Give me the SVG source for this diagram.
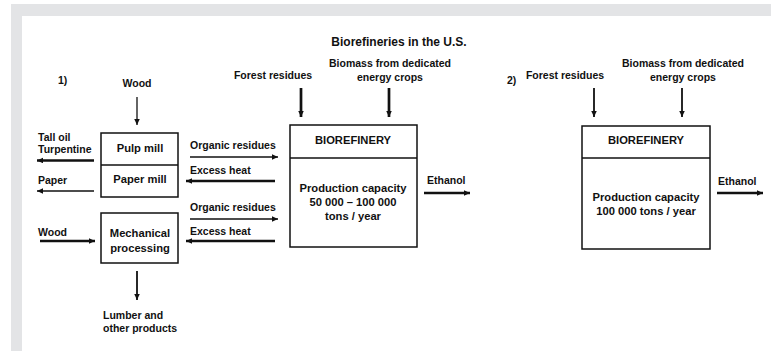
<svg xmlns="http://www.w3.org/2000/svg" width="771" height="351" viewBox="0 0 771 351">
  <style>
    text { font-family: "Liberation Sans", Arial, sans-serif; font-weight: bold; fill: #111; font-size: 10.5px; }
    .title { font-size: 12px; }
    .box-text { font-size: 11.2px; }
    .c { text-anchor: middle; }
    .box { fill: #fff; stroke: #111; stroke-width: 1.5; }
    .div { stroke: #111; stroke-width: 1.5; }
    .thin { stroke: #111; stroke-width: 1.3; fill: none; marker-end: url(#head); }
    .mid { stroke: #111; stroke-width: 1.8; fill: none; marker-end: url(#head); }
    .thick { stroke: #111; stroke-width: 2.7; fill: none; marker-end: url(#head); }
  </style>
  <defs>
    <marker id="head" markerUnits="userSpaceOnUse" markerWidth="7" markerHeight="6" refX="6" refY="2.75" orient="auto">
      <path d="M0,0 L6,2.75 L0,5.5 z" fill="#111"/>
    </marker>
  </defs>

  <!-- page frame -->
  <rect x="0" y="0" width="771" height="351" fill="#fff"/>
  <rect x="11" y="4" width="760" height="12" fill="#e3e4e6"/>
  <rect x="11" y="4" width="11" height="347" fill="#e3e4e6"/>

  <text class="title c" x="399" y="46">Biorefineries in the U.S.</text>

  <!-- scenario labels -->
  <text x="58" y="84">1)</text>
  <text x="507" y="84">2)</text>

  <!-- input / output labels, scenario 1 -->
  <g id="labels-1">
    <text class="c" x="137" y="87">Wood</text>
    <text x="38" y="141">Tall oil</text>
    <text x="38" y="153">Turpentine</text>
    <text x="38" y="184">Paper</text>
    <text x="38" y="236">Wood</text>
    <text x="103" y="319">Lumber and</text>
    <text x="103" y="332">other products</text>
    <text x="190" y="149">Organic residues</text>
    <text x="190" y="174">Excess heat</text>
    <text x="190" y="211">Organic residues</text>
    <text x="190" y="235">Excess heat</text>
    <text class="c" x="273" y="79">Forest residues</text>
    <text class="c" x="390" y="67">Biomass from dedicated</text>
    <text class="c" x="390" y="81">energy crops</text>
    <text x="427" y="184">Ethanol</text>
  </g>

  <!-- input / output labels, scenario 2 -->
  <g id="labels-2">
    <text class="c" x="565" y="79">Forest residues</text>
    <text class="c" x="683" y="67">Biomass from dedicated</text>
    <text class="c" x="683" y="81">energy crops</text>
    <text x="718" y="185">Ethanol</text>
  </g>

  <g id="pulp-paper-mill">
    <rect class="box" x="101" y="133" width="77" height="64"/>
    <line class="div" x1="101" y1="165" x2="178" y2="165"/>
    <text class="box-text c" x="140" y="152">Pulp mill</text>
    <text class="box-text c" x="140" y="183">Paper mill</text>
  </g>

  <g id="mechanical-processing">
    <rect class="box" x="101" y="213" width="77" height="50"/>
    <text class="box-text c" x="140" y="237">Mechanical</text>
    <text class="box-text c" x="140" y="252">processing</text>
  </g>

  <g id="biorefinery-1">
    <rect class="box" x="290" y="125" width="127" height="122"/>
    <line class="div" x1="290" y1="158" x2="417" y2="158"/>
    <text class="box-text c" x="353" y="144">BIOREFINERY</text>
    <text class="box-text c" x="353" y="192">Production capacity</text>
    <text class="box-text c" x="353" y="206">50 000 – 100 000</text>
    <text class="box-text c" x="353" y="220">tons / year</text>
  </g>

  <g id="biorefinery-2">
    <rect class="box" x="582" y="126" width="128" height="123"/>
    <line class="div" x1="582" y1="158" x2="710" y2="158"/>
    <text class="box-text c" x="646" y="144">BIOREFINERY</text>
    <text class="box-text c" x="646" y="201">Production capacity</text>
    <text class="box-text c" x="646" y="215">100 000 tons / year</text>
  </g>

  <g id="connectors">
    <!-- scenario 1 -->
    <line class="thin" x1="137" y1="97" x2="137" y2="125"/>
    <line class="thick" x1="94" y1="160.5" x2="37" y2="160.5"/>
    <line class="thin" x1="94" y1="191" x2="37" y2="191"/>
    <line class="thick" x1="40" y1="241" x2="95" y2="241"/>
    <line class="mid" x1="137" y1="271" x2="137" y2="300"/>
    <line class="thin" x1="190" y1="157" x2="278" y2="157"/>
    <line class="thick" x1="275" y1="181" x2="186" y2="181"/>
    <line class="thin" x1="190" y1="219" x2="278" y2="219"/>
    <line class="thick" x1="275" y1="241" x2="186" y2="241"/>
    <line class="thick" x1="301" y1="88" x2="301" y2="117"/>
    <line class="thick" x1="389" y1="88" x2="389" y2="117"/>
    <line class="thick" x1="424" y1="193" x2="470" y2="193"/>
    <!-- scenario 2 -->
    <line class="mid" x1="594" y1="88" x2="594" y2="117"/>
    <line class="mid" x1="682" y1="88" x2="682" y2="117"/>
    <line class="thick" x1="717" y1="193" x2="763" y2="193"/>
  </g>
</svg>
